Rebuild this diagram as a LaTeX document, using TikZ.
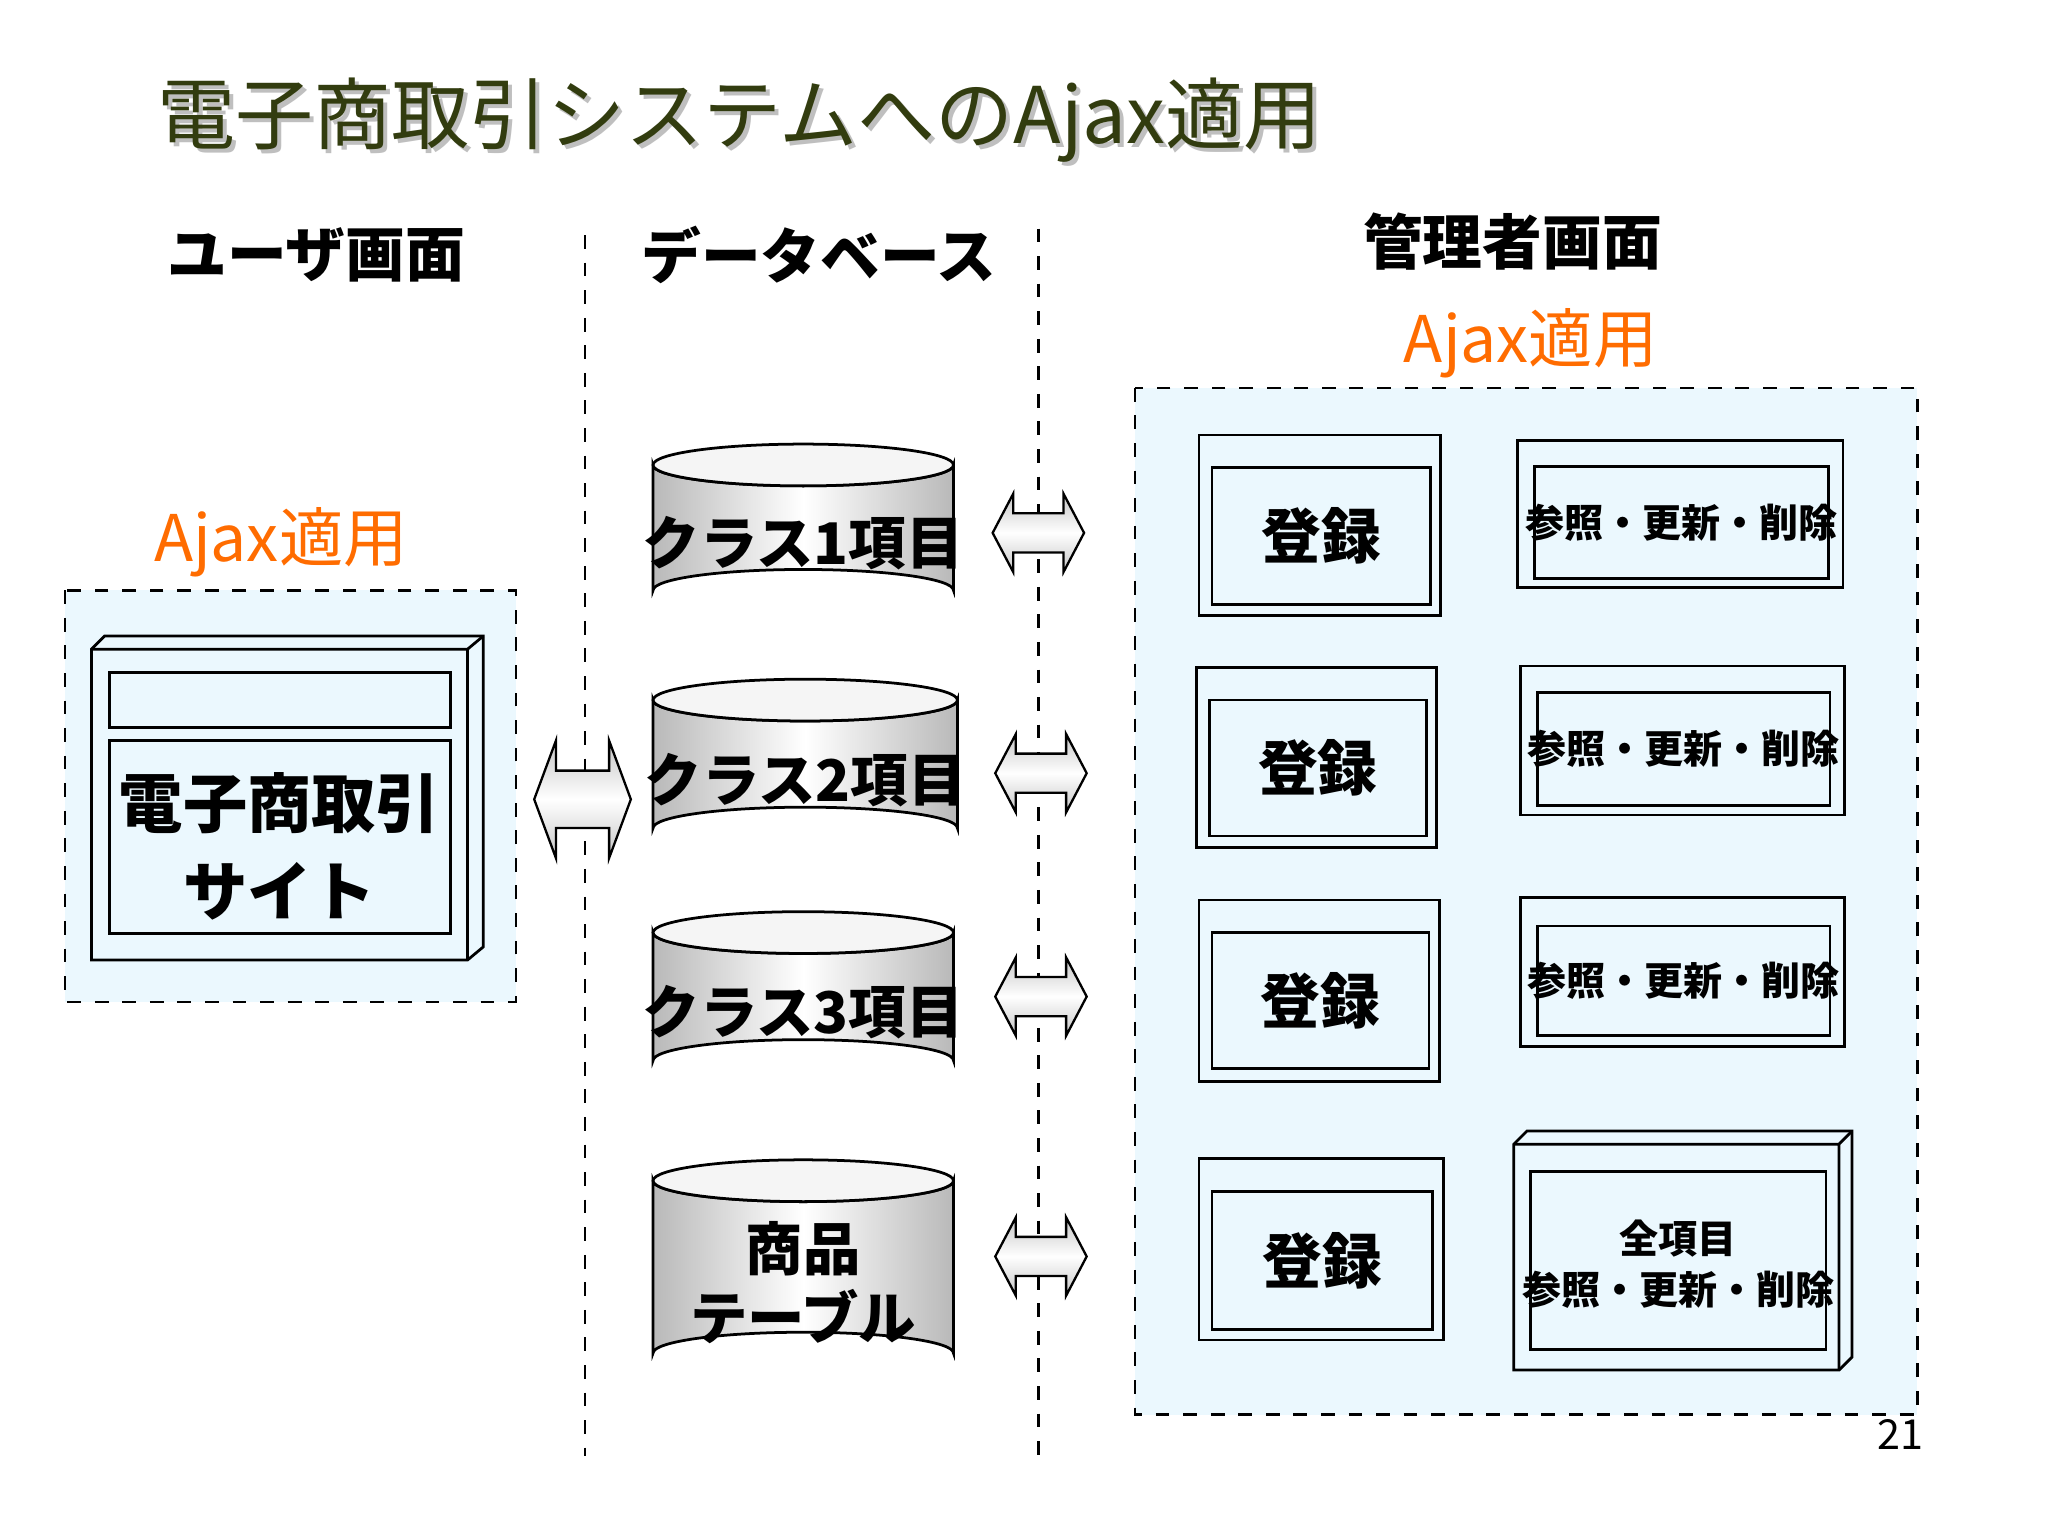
\documentclass[tikz,border=0pt]{standalone}
\usepackage{fontspec}
\setmainfont{Noto Sans CJK JP}
\begin{document}
\begin{tikzpicture}[x=0.01cm,y=-0.01cm,
  dsh/.style={dashed,line width=0.5pt},
  panel/.style={dsh,fill=cyan!8},
  box/.style={draw,line width=0.6pt,fill=cyan!8},
  cyl/.style={draw,line width=0.6pt,left color=gray!55,right color=gray!55,middle color=white},
  arr/.style={draw,line width=0.5pt,top color=gray!45,bottom color=gray!45,middle color=white},
  hd/.style={font=\fontsize{13}{15}\selectfont\bfseries},
  aj/.style={font=\fontsize{14}{16}\selectfont,text=orange!85!red},
  reg/.style={font=\fontsize{13}{15}\selectfont\bfseries},
  ref/.style={font=\fontsize{8.5}{11}\selectfont\bfseries,align=center},
  cl/.style={font=\fontsize{12.5}{15}\selectfont\bfseries,align=center}]
\useasboundingbox (0,0) rectangle (1568,1176);
\fill[white] (0,0) rectangle (1568,1176);
% title
\node[anchor=west,font=\fontsize{17}{20}\selectfont,text=gray!50] (ts) at (111,95) {電子商取引システムへのAjax適用};
\node[anchor=west,font=\fontsize{17}{20}\selectfont,text={rgb,255:red,50;green,60;blue,15}] (t) at (108,92) {電子商取引システムへのAjax適用};
% headings
\node[hd] (h1) at (242,195) {ユーザ画面};
\node[hd] (h2) at (627,195) {データベース};
\node[hd] (h3) at (1158,185) {管理者画面};
\node[aj] (a1) at (215,415) {Ajax適用};
\node[aj] (a2) at (1172,263) {Ajax適用};
% dashed separators
\draw[dsh] (448,180) -- (448,1115);
\draw[dsh] (795,175) -- (795,1115);
% left panel
\draw[panel] (50,452) rectangle (395,767);
\draw[box] (70,497) -- (80,487) -- (370,487) -- (370,725) -- (358,735) -- (70,735) -- cycle;
\draw[line width=0.6pt] (358,497) -- (370,487) (358,497) -- (358,735) (70,497) -- (358,497);
\draw[line width=0.6pt] (84,515) rectangle (345,557);
\draw[line width=0.6pt] (84,567) rectangle (345,715);
\node[font=\fontsize{14}{19}\selectfont\bfseries,align=center] (site) at (214,648) {電子商取引\\サイト};
% cylinders
\foreach \yt/\yb/\lab/\xr in {356/452/クラス1項目/730,536/634/クラス2項目/733,714/812/クラス3項目/730,904/1036/商品\\テーブル/730}{
  \draw[cyl] (500,\yt) -- (500,\yb) arc[start angle=180,end angle=360,x radius={(\xr-500)/2},y radius=16] -- (\xr,\yt) arc[start angle=0,end angle=180,x radius={(\xr-500)/2},y radius=16] -- cycle;
  \draw[line width=0.6pt,fill=gray!8] ({(500+\xr)/2},\yt) ellipse[x radius={(\xr-500)/2},y radius=16];
  \node[cl] at ({(500+\xr)/2},{(\yt+\yb)/2+12}) {\lab};
}
% double arrows
\newcommand{\dbarrow}[5]{% cx cy halfw halfh shafthalf
  \draw[arr] ({#1-#3},#2) -- ({#1-#3+0.45*#3},{#2-#4}) -- ({#1-#3+0.45*#3},{#2-#5}) -- ({#1+#3-0.45*#3},{#2-#5}) -- ({#1+#3-0.45*#3},{#2-#4}) -- ({#1+#3},#2) -- ({#1+#3-0.45*#3},{#2+#4}) -- ({#1+#3-0.45*#3},{#2+#5}) -- ({#1-#3+0.45*#3},{#2+#5}) -- ({#1-#3+0.45*#3},{#2+#4}) -- cycle;}
\dbarrow{446}{612}{37}{45}{22}
\dbarrow{795}{408}{35}{30}{15}
\dbarrow{797}{592}{35}{30}{15}
\dbarrow{797}{763}{35}{30}{15}
\dbarrow{797}{962}{35}{30}{15}
% right panel
\draw[panel] (869,297) rectangle (1468,1083);
\foreach \ox/\oy/\Ox/\Oy/\ix/\iy/\Ix/\Iy in {918/333/1103/471/928/358/1095/463,916/511/1100/649/926/536/1092/640,918/689/1102/828/928/714/1094/818,918/887/1105/1026/928/912/1097/1018}{
  \draw[box] (\ox,\oy) rectangle (\Ox,\Oy);
  \draw[line width=0.6pt] (\ix,\iy) rectangle (\Ix,\Iy);
  \node[reg] at ({(\ix+\Ix)/2},{(\iy+\Iy)/2}) {登録};
}
\foreach \ox/\oy/\Ox/\Oy/\ix/\iy/\Ix/\Iy in {1162/337/1411/450/1175/357/1400/443,1164/510/1412/624/1177/530/1401/617,1164/687/1412/801/1177/709/1401/793}{
  \draw[box] (\ox,\oy) rectangle (\Ox,\Oy);
  \draw[line width=0.6pt] (\ix,\iy) rectangle (\Ix,\Iy);
  \node[ref] at ({(\ix+\Ix)/2},{(\iy+\Iy)/2}) {参照・更新・削除};
}
\draw[box] (1159,876) -- (1169,866) -- (1418,866) -- (1418,1039) -- (1408,1049) -- (1159,1049) -- cycle;
\draw[line width=0.6pt] (1159,876) -- (1408,876) -- (1418,866) (1408,876) -- (1408,1049);
\draw[line width=0.6pt] (1172,897) rectangle (1398,1033);
\node[ref] (all) at (1285,968) {全項目\\参照・更新・削除};
\node[font=\fontsize{9}{11}\selectfont] (pg) at (1455,1098) {21};
\end{tikzpicture}
\end{document}
